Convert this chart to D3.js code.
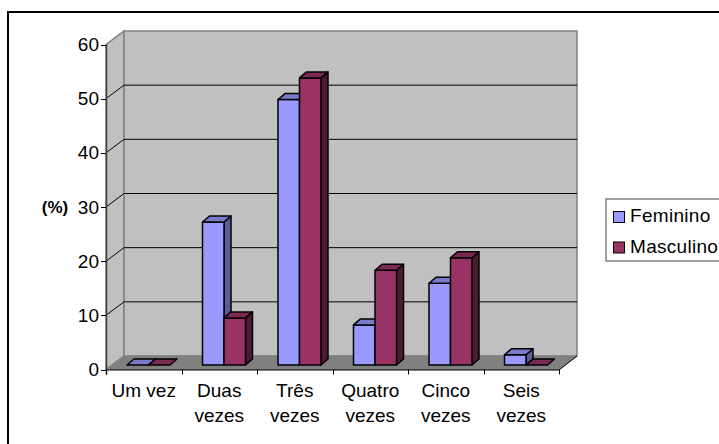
<!DOCTYPE html>
<html>
<head>
<meta charset="utf-8">
<script src="https://cdn.jsdelivr.net/npm/d3@7"></script>
<style>
html, body { margin: 0; padding: 0; background: #fff; overflow: hidden; }
svg { display: block; }
text { font-family: "Liberation Sans", Arial, sans-serif; fill: #000; }
</style>
</head>
<body>
<svg id="chart" width="719" height="444"></svg>
<script>
// Chart content
const categories = [["Um vez"], ["Duas", "vezes"], ["Três", "vezes"], ["Quatro", "vezes"], ["Cinco", "vezes"], ["Seis", "vezes"]];
const feminino = [0, 26.4, 49, 7.4, 15.1, 1.9];
const masculino = [0, 8.7, 53, 17.5, 19.8, 0];
const yTicks = [0, 10, 20, 30, 40, 50, 60];
const seriesNames = ["Feminino", "Masculino"];

// Colours: front, top and side of each column
const palette = [
  { front: "#9999ff", top: "#7a7acc", side: "#5c5c99" },
  { front: "#993366", top: "#7a2952", side: "#4d1a33" }
];

const svg = d3.select("#chart");

// Plot geometry: front plane, and the offset to the back wall
const x0 = 106, x1 = 559, yBottom = 369.5, yTop = 44.5;
const depthX = 18, depthY = -13.5;

const x = d3.scaleBand().domain(d3.range(categories.length)).range([x0, x1]);
const y = d3.scaleLinear().domain([0, 60]).range([yBottom, yTop]);
const inner = d3.scaleBand().domain([0, 1]).range([21, 64]);

const line = d3.line();
const poly = pts => line(pts) + "Z";

// Walls and floor
svg.append("path")
  .attr("d", poly([[x0, yBottom], [x0, yTop], [x0 + depthX, yTop + depthY], [x0 + depthX, yBottom + depthY]]))
  .attr("fill", "#c0c0c0").attr("stroke", "#808080").attr("stroke-width", 1.5);
svg.append("rect")
  .attr("x", x0 + depthX).attr("y", yTop + depthY)
  .attr("width", x1 - x0).attr("height", yBottom - yTop)
  .attr("fill", "#c0c0c0").attr("stroke", "#808080").attr("stroke-width", 1.5);
svg.append("path")
  .attr("d", poly([[x0, yBottom], [x1, yBottom], [x1 + depthX, yBottom + depthY], [x0 + depthX, yBottom + depthY]]))
  .attr("fill", "#808080").attr("stroke", "#808080");

// Gridlines across the back wall and down the side wall
const grid = svg.append("g").attr("fill", "none").attr("stroke", "#000").attr("stroke-width", 1);
yTicks.filter(t => t > 0 && t < 60).forEach(t => {
  grid.append("path").attr("d", line([[x0, y(t)], [x0 + depthX, y(t) + depthY], [x1 + depthX, y(t) + depthY]]));
});
grid.append("path").attr("d", line([[x0, yTop], [x0 + depthX, yTop + depthY]])).attr("stroke", "#808080");

// Axes
svg.append("g").attr("fill", "none").attr("stroke", "#000").attr("stroke-width", 1)
  .call(g => {
    g.append("path").attr("d", line([[x0 + 0.5, yTop], [x0 + 0.5, yBottom + 5]])).attr("stroke", "#404040").attr("stroke-width", 1.5);
    g.append("path").attr("d", line([[x0, yBottom + 0.5], [x1, yBottom + 0.5]]));
    g.append("path").attr("d", line([[x1, yBottom + 0.5], [x1 + depthX, yBottom + depthY]])).attr("stroke", "#000");
    yTicks.forEach(t => g.append("path").attr("d", line([[x0 - 5, Math.round(y(t)) + 0.5], [x0, Math.round(y(t)) + 0.5]])));
    d3.range(categories.length + 1).forEach(i => {
      const px = Math.round(x0 + i * x.bandwidth()) + 0.5;
      g.append("path").attr("d", line([[px, yBottom], [px, yBottom + 5]]));
    });
  });

svg.append("g").selectAll("text").data(yTicks).join("text")
  .attr("x", x0 - 7).attr("y", d => y(d) + 6.5)
  .attr("text-anchor", "end").attr("font-size", 19)
  .text(d => d);

svg.append("text").attr("x", 55).attr("y", 213).attr("text-anchor", "middle")
  .attr("font-size", 17).attr("font-weight", "bold").text("(%)");

// Category labels, wrapped on two lines where needed
const labels = svg.append("g").selectAll("text").data(categories).join("text")
  .attr("font-size", 19).attr("text-anchor", "middle");
labels.each(function (d, i) {
  const node = d3.select(this);
  d.forEach((part, k) => {
    node.append("tspan").attr("x", x(i) + x.bandwidth() / 2).attr("y", 397 + k * 24.5).text(part);
  });
});

// Columns: back to front, each with a front face, a top and a side
const barDX = 7, barDY = -6, floorY = 365;
const barY = v => floorY - (yBottom - y(v));
const series = [feminino, masculino];
const bars = svg.append("g").attr("stroke", "#000").attr("stroke-width", 1.5).attr("stroke-linejoin", "round");
categories.forEach((c, i) => {
  series.forEach((values, s) => {
    const v = values[i];
    const l = x(i) + inner(s), r = l + inner.bandwidth();
    const t = barY(v), b = barY(0);
    const p = palette[s];
    if (t < b) {
      bars.append("path").attr("d", poly([[r, t], [r + barDX, t + barDY], [r + barDX, b + barDY], [r, b]])).attr("fill", p.side);
      bars.append("path").attr("d", poly([[l, b], [r, b], [r, t], [l, t]])).attr("fill", p.front);
    }
    bars.append("path").attr("d", poly([[l, t], [r, t], [r + barDX, t + barDY], [l + barDX, t + barDY]])).attr("fill", p.top);
  });
});

// Legend
const legend = svg.append("g");
legend.append("rect").attr("x", 606).attr("y", 199).attr("width", 114).attr("height", 62)
  .attr("fill", "#fff").attr("stroke", "#808080").attr("stroke-width", 1.5);
seriesNames.forEach((name, i) => {
  const cy = 216.5 + i * 30.5;
  legend.append("rect").attr("x", 613.5).attr("y", cy - 5).attr("width", 11).attr("height", 11)
    .attr("fill", palette[i].front).attr("stroke", "#000");
  legend.append("text").attr("x", 630).attr("y", cy + 5.5).attr("font-size", 19).attr("letter-spacing", 0.3).text(name);
});

// Outer frame
svg.append("path").attr("d", line([[8, 444], [8, 12], [719, 12]]))
  .attr("fill", "none").attr("stroke", "#000").attr("stroke-width", 2);
</script>
</body>
</html>
